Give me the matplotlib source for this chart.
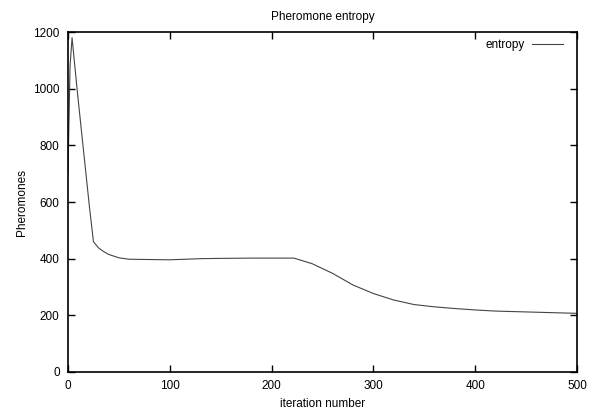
import matplotlib
matplotlib.use("Agg")
import matplotlib.pyplot as plt

plt.rcParams['font.family'] = ['Liberation Sans', 'DejaVu Sans']

# entropy curve
iteration = [0, 2, 4, 9, 15, 21, 25, 30, 35, 40, 50, 60, 80, 100, 130, 150, 180, 200, 222,
             240, 260, 280, 300, 320, 340, 360, 380, 400, 420, 450, 480, 500]
entropy = [700, 1080, 1180, 995, 790, 585, 460, 438, 425, 415, 403, 398, 397, 396, 400, 401, 402, 402, 402,
           382, 348, 307, 277, 254, 238, 230, 224, 219, 215, 212, 209, 207]

xticks = [0, 100, 200, 300, 400, 500]
yticks = [0, 200, 400, 600, 800, 1000, 1200]

fig = plt.figure(figsize=(5.97, 4.11), dpi=100)
ax = fig.add_axes([0.1139, 0.0949, 0.8526, 0.8272])

ax.plot(iteration, entropy, color='#444444', lw=0.8, label='entropy')

ax.set_xlim(0, 500)
ax.set_ylim(0, 1200)
ax.set_xticks(xticks)
ax.set_yticks(yticks)
ax.tick_params(direction='in', top=True, right=True, length=5, width=1, labelsize=8.5, pad=6)
for s in ax.spines.values():
    s.set_linewidth(1.2)

ax.set_title('Pheromone entropy', fontsize=8.5, pad=9)
ax.set_xlabel('iteration number', fontsize=8.5, labelpad=4)
ax.set_ylabel('Pheromones', fontsize=8.5, labelpad=4)
ax.legend(loc='upper right', bbox_to_anchor=(0.986, 1.0), frameon=False, markerfirst=False,
          fontsize=8.5, handlelength=2.6, handletextpad=0.6, borderaxespad=0.2)

fig.savefig('out.png', dpi=100)
